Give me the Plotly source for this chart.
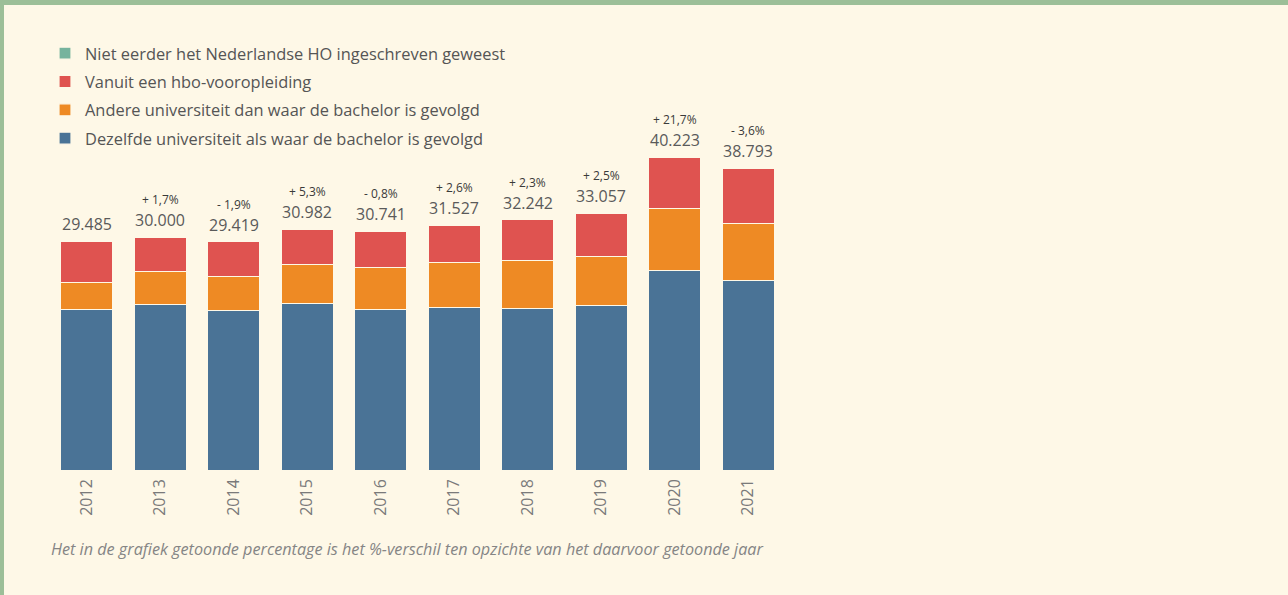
import plotly.graph_objects as go

# Data
years = ["2012", "2013", "2014", "2015", "2016", "2017", "2018", "2019", "2020", "2021"]
totals = [29485, 30000, 29419, 30982, 30741, 31527, 32242, 33057, 40223, 38793]
same_uni = [20705, 21346, 20538, 21474, 20705, 21000, 20795, 21218, 25744, 24462]
other_uni = [3423, 4269, 4436, 5000, 5423, 5769, 6192, 6321, 7872, 7269]
from_hbo = [5357, 4385, 4445, 4508, 4613, 4758, 5255, 5518, 6607, 7062]
not_before = [0, 0, 0, 0, 0, 0, 0, 0, 0, 0]

BG = "#FEF8E7"
BORDER = "#9CBF98"
FONT = "Open Sans"

# figure geometry (pixels)
W, H = 1288, 595
ML, MR, MT, MB = 50, 503, 100, 124
PW, PH = W - ML - MR, H - MT - MB
YMAX = PH / 0.0078


def fmt_total(v):
    return f"{v:,}".replace(",", ".")


def fmt_pct(cur, prev):
    p = (cur - prev) / prev * 100
    sign = "+" if p >= 0 else "-"
    return f"{sign} {abs(p):.1f}%".replace(".", ",")


series = [
    ("Dezelfde universiteit als waar de bachelor is gevolgd", same_uni, "#4A7396"),
    ("Andere universiteit dan waar de bachelor is gevolgd", other_uni, "#EE8A24"),
    ("Vanuit een hbo-vooropleiding", from_hbo, "#DF5350"),
    ("Niet eerder het Nederlandse HO ingeschreven geweest", not_before, "#76B39D"),
]

fig = go.Figure()
for rank, (name, vals, col) in enumerate(series):
    fig.add_trace(go.Bar(
        x=years, y=vals, name=name, legendgroup=name, legendrank=1000 - rank,
        marker=dict(color=col, line=dict(color=BG, width=1.2)),
    ))

# total and percent-change labels above the bars
# (x given as category index: "2012"-like strings get read as numbers)
for i, tot in enumerate(totals):
    fig.add_annotation(x=i, y=tot, text=fmt_total(tot), showarrow=False,
                       yanchor="bottom", yshift=4,
                       font=dict(family=FONT, size=16, color="#5a5a5a"))
    if i > 0:
        fig.add_annotation(x=i, y=tot, text=fmt_pct(tot, totals[i - 1]), showarrow=False,
                           yanchor="bottom", yshift=27,
                           font=dict(family=FONT, size=12, color="#3a3a3a"))

# footnote
fig.add_annotation(xref="paper", yref="paper", x=-1 / PW, y=-(549 - (H - MB)) / PH,
                   text="<i>Het in de grafiek getoonde percentage is het %-verschil ten opzichte van het daarvoor getoonde jaar</i>",
                   showarrow=False, xanchor="left", yanchor="middle",
                   font=dict(family=FONT, size=16.2, color="#858585"))

# green frame on top and left edge of the page
fig.add_shape(type="rect", xref="paper", yref="paper", layer="above",
              x0=-ML / PW, x1=(W - ML) / PW, y0=1 + (MT - 5) / PH, y1=1 + MT / PH,
              fillcolor=BORDER, line_width=0)
fig.add_shape(type="rect", xref="paper", yref="paper", layer="above",
              x0=-ML / PW, x1=-(ML - 4) / PW, y0=-MB / PH, y1=1 + MT / PH,
              fillcolor=BORDER, line_width=0)

fig.update_layout(
    width=W, height=H,
    barmode="stack", bargap=0.29,
    paper_bgcolor=BG, plot_bgcolor=BG,
    margin=dict(l=ML, r=MR, t=MT, b=MB),
    font=dict(family=FONT, color="#555555"),
    showlegend=True,
    legend=dict(
        tracegroupgap=4,
        x=-5 / PW, xanchor="left", y=1 + (MT - 36) / PH, yanchor="top",
        bgcolor="rgba(0,0,0,0)", font=dict(family=FONT, size=16.4, color="#555555"),
    ),
    xaxis=dict(type="category", range=[-0.5, len(years) - 0.5], tickangle=-90,
               showgrid=False, showline=False, ticks="", ticklabelstandoff=4,
               tickfont=dict(family=FONT, size=16, color="#7a7a7a")),
    yaxis=dict(range=[0, YMAX], visible=False),
)

fig.write_html("out.html", config={"displayModeBar": False},
               post_script="document.body.style.margin='0';")
